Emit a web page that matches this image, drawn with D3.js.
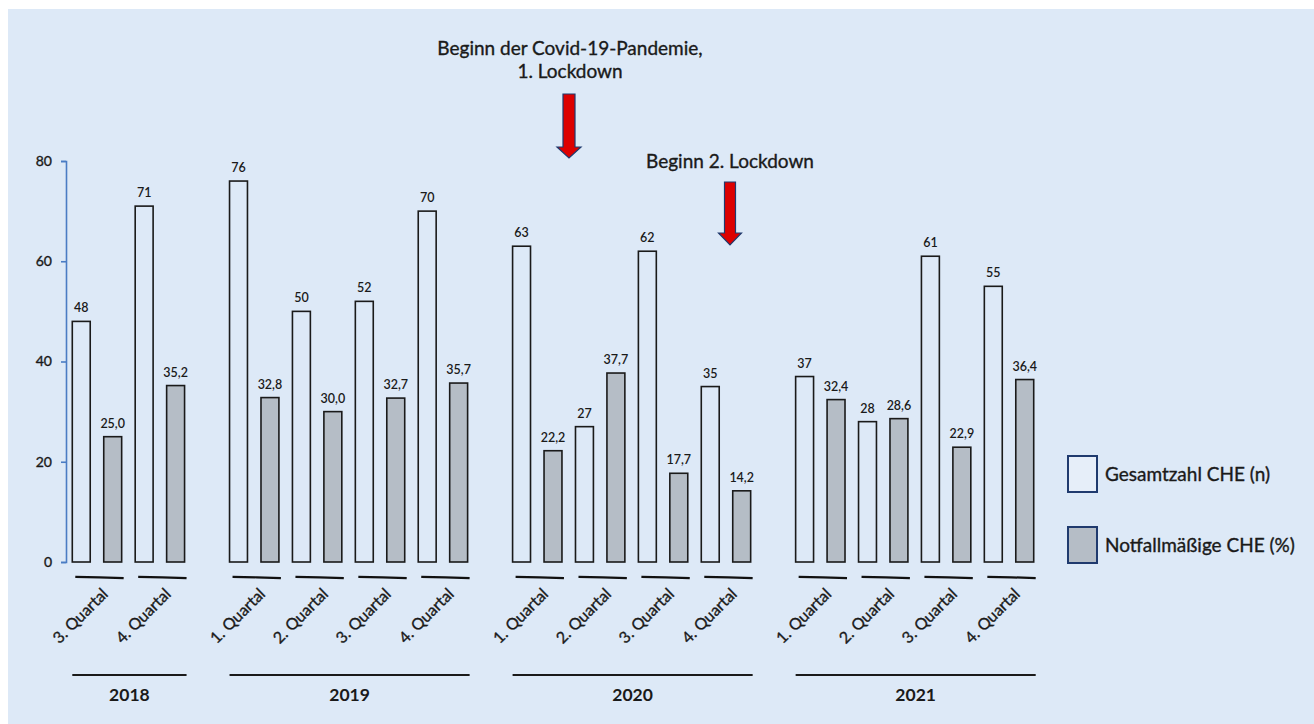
<!DOCTYPE html>
<html>
<head>
<meta charset="utf-8">
<script src="https://cdn.jsdelivr.net/npm/d3@7"></script>
<style>
  html, body { margin: 0; padding: 0; background: #ffffff; }
  svg { display: block; }
  text { font-family: Lato, "Open Sans", sans-serif; fill: #1a1a1a; }
  .heavy { stroke: #1a1a1a; stroke-width: 0.35px; }
</style>
</head>
<body>
<svg id="chart" width="1314" height="724"></svg>
<script>
// ---- data ----
const years = ["2018", "2019", "2020", "2021"];
const quarters = [
  ["3. Quartal", "4. Quartal"],
  ["1. Quartal", "2. Quartal", "3. Quartal", "4. Quartal"],
  ["1. Quartal", "2. Quartal", "3. Quartal", "4. Quartal"],
  ["1. Quartal", "2. Quartal", "3. Quartal", "4. Quartal"]
];
const gesamtzahl = [48, 71, 76, 50, 52, 70, 63, 27, 62, 35, 37, 28, 61, 55];
const notfall = [25.0, 35.2, 32.8, 30.0, 32.7, 35.7, 22.2, 37.7, 17.7, 14.2, 32.4, 28.6, 22.9, 36.4];
const yTicks = [0, 20, 40, 60, 80];
const seriesNames = ["Gesamtzahl CHE (n)", "Notfallmäßige CHE (%)"];
const annotations = [
  { lines: ["Beginn der Covid-19-Pandemie,", "1. Lockdown"] },
  { lines: ["Beginn 2. Lockdown"] }
];

// ---- build rows ----
const rows = [];
let k = 0;
years.forEach((y, yi) => {
  quarters[yi].forEach((q, qi) => {
    rows.push({ year: y, quarter: q, id: y + "-" + qi, n: gesamtzahl[k], p: notfall[k] });
    k++;
  });
});
// slots: two bars per quarter + one spacer between years
const slots = [];
years.forEach((y, yi) => {
  rows.filter(r => r.year === y).forEach(r => { slots.push(r.id + "-n"); slots.push(r.id + "-p"); });
  if (yi < years.length - 1) slots.push("gap-" + y);
});

const svg = d3.select("#chart");
const fmt = v => d3.format(".1f")(v).replace(".", ",");

// background panel
svg.append("rect").attr("x", 8).attr("y", 9).attr("width", 1314 - 8).attr("height", 724 - 9)
  .attr("fill", "#dde9f7");

const x = d3.scaleBand().domain(slots).range([66, 1040]).paddingInner(0.43).paddingOuter(0.2);
const y = d3.scaleLinear().domain([0, 80]).range([562, 161]);
const bw = x.bandwidth();

// y axis
const yAxis = svg.append("g").attr("transform", "translate(66,0)")
  .call(d3.axisLeft(y).tickValues(yTicks).tickSize(5).tickSizeOuter(5).tickPadding(9));
yAxis.selectAll("path, line").attr("stroke", "#4a7cc4").attr("stroke-width", 1.6);
yAxis.selectAll("text").attr("font-size", 14).attr("font-family", "Lato, sans-serif")
  .attr("fill", "#1a1a1a").attr("class", "heavy");

// bars
const g = svg.append("g");
g.selectAll("rect.n").data(rows).join("rect").attr("class", "n")
  .attr("x", d => x(d.id + "-n")).attr("y", d => y(d.n))
  .attr("width", bw).attr("height", d => y(0) - y(d.n))
  .attr("fill", "none").attr("stroke", "#1a1a1a").attr("stroke-width", 1.6);
g.selectAll("rect.p").data(rows).join("rect").attr("class", "p")
  .attr("x", d => x(d.id + "-p")).attr("y", d => y(d.p))
  .attr("width", bw).attr("height", d => y(0) - y(d.p))
  .attr("fill", "#b5bdc6").attr("stroke", "#1a1a1a").attr("stroke-width", 1.6);

// value labels
g.selectAll("text.vn").data(rows).join("text").attr("class", "vn")
  .attr("x", d => x(d.id + "-n") + bw / 2).attr("y", d => y(d.n) - 9)
  .attr("text-anchor", "middle").attr("font-size", 12.5).attr("font-weight", 600)
  .text(d => d.n);
g.selectAll("text.vp").data(rows).join("text").attr("class", "vp")
  .attr("x", d => x(d.id + "-p") + bw / 2).attr("y", d => y(d.p) - 9)
  .attr("text-anchor", "middle").attr("font-size", 12.5).attr("font-weight", 600)
  .text(d => fmt(d.p));

// quarter underline strokes
g.selectAll("path.ul").data(rows).join("path").attr("class", "ul")
  .attr("d", d => {
    const x0 = x(d.id + "-n") + 3, x1 = x(d.id + "-p") + bw + 2;
    return `M${x0},576.8 L${x0 + (x1 - x0) * 0.5},577.3 L${x1},578.2`;
  })
  .attr("fill", "none").attr("stroke", "#111").attr("stroke-width", 2.2);

// quarter labels
g.selectAll("text.q").data(rows).join("text").attr("class", "q heavy")
  .attr("transform", d => {
    const cx = (x(d.id + "-n") + x(d.id + "-p") + bw) / 2;
    return `translate(${cx + 12},${595}) rotate(-45)`;
  })
  .attr("text-anchor", "end").attr("font-size", 16)
  .text(d => d.quarter);

// year lines and labels
years.forEach(yr => {
  const r = rows.filter(d => d.year === yr);
  const x0 = x(r[0].id + "-n");
  const x1 = x(r[r.length - 1].id + "-p") + bw + 2;
  svg.append("line").attr("x1", x0).attr("x2", x1).attr("y1", 675).attr("y2", 675)
    .attr("stroke", "#1a1a1a").attr("stroke-width", 2);
  svg.append("text").attr("x", (x0 + x1) / 2).attr("y", 701).attr("text-anchor", "middle")
    .attr("font-size", 17.5).attr("font-weight", 700).text(yr);
});

// annotations with arrows
function arrow(cx, yTop, yHeadStart, yTip, shaftW, headW) {
  const p = [
    [cx - shaftW / 2, yTop], [cx + shaftW / 2, yTop], [cx + shaftW / 2, yHeadStart],
    [cx + headW / 2, yHeadStart], [cx, yTip], [cx - headW / 2, yHeadStart],
    [cx - shaftW / 2, yHeadStart]
  ];
  svg.append("path").attr("d", "M" + p.map(q => q.join(",")).join("L") + "Z")
    .attr("fill", "#dd0000").attr("stroke", "#1f3a6e").attr("stroke-width", 1.2);
}
const a1 = svg.append("text").attr("text-anchor", "middle").attr("font-size", 19).attr("class", "heavy");
a1.append("tspan").attr("x", 570).attr("y", 55).text(annotations[0].lines[0]);
a1.append("tspan").attr("x", 570).attr("y", 78).text(annotations[0].lines[1]);
arrow(569, 94, 147, 158, 12, 24);
svg.append("text").attr("text-anchor", "middle").attr("font-size", 19).attr("class", "heavy")
  .attr("x", 730).attr("y", 168).text(annotations[1].lines[0]);
arrow(730, 182, 233, 245, 11, 23);

// legend
const leg = svg.append("g");
[[456, "none"], [527, "#b5bdc6"]].forEach((c, i) => {
  leg.append("rect").attr("x", 1068).attr("y", c[0]).attr("width", 29).attr("height", 36)
    .attr("fill", c[1] === "none" ? "#e6eef9" : c[1]).attr("stroke", "#1f3a6e").attr("stroke-width", 2);
  leg.append("text").attr("x", 1105).attr("y", c[0] + 25).attr("font-size", 19).attr("class", "heavy")
    .text(seriesNames[i]);
});
</script>
</body>
</html>
